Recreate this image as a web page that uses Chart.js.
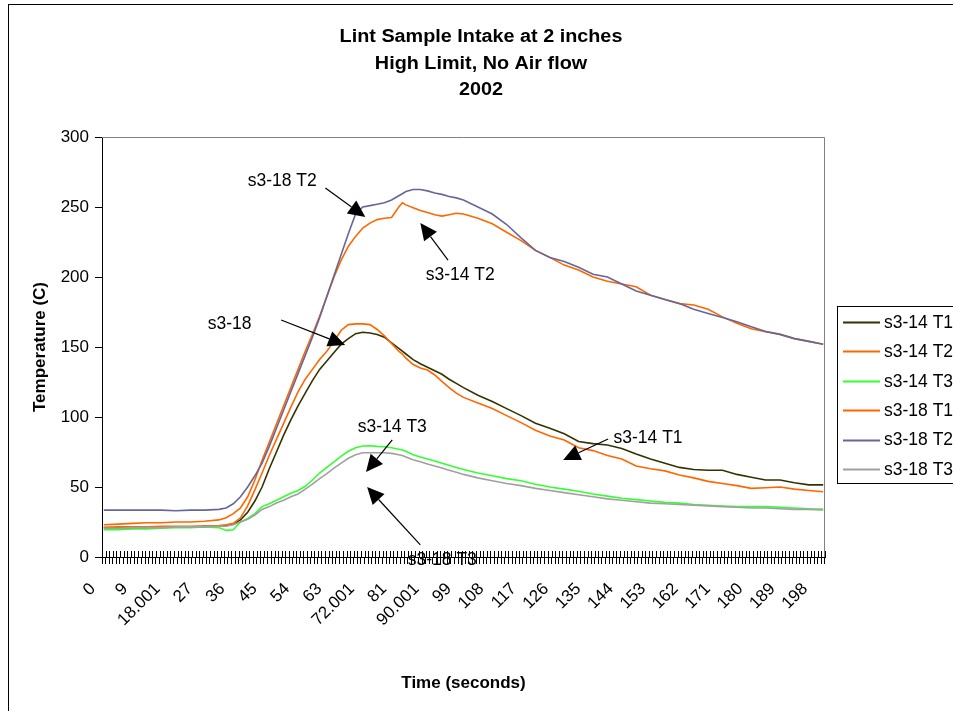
<!DOCTYPE html>
<html>
<head>
<meta charset="utf-8">
<script src="https://cdn.jsdelivr.net/npm/chart.js@4.4.0/dist/chart.umd.min.js"></script>
<style>
html,body{margin:0;padding:0;background:#fff;}
canvas{display:block;}
</style>
</head>
<body>
<canvas id="c" width="953" height="711"></canvas>
<script>
// ---- Data ----
const titleLines = ['Lint Sample Intake at 2 inches', 'High Limit, No Air flow', '2002'];
const xTitle = 'Time (seconds)';
const yTitle = 'Temperature (C)';

// time categories (seconds), one per recorded sample
const timeCategories = [0,1,2,3,4,5,6,7,8,9,10,11,12,13,14,15,16,17,18.001,19,
20,21,22,23,24,25,26,27,28,29,30,31,32,33,34,35,36,37,38,39,
40,41,42,43,44,45,46,47,48,49,50,51,52,53,54,55,56,57,58,59,
60,61,62,63,64,65,66,67,68,69,70,71,72.001,73,74,75,76,77,78,79,
80,81,82,83,84,85,86,87,88,89,90.001,91,92,93,94,95,96,97,98,99,
100,101,102,103,104,105,106,107,108,109,110,111,112,113,114,115,116,117,118,119,
120,121,122,123,124,125,126,127,128,129,130,131,132,133,134,135,136,137,138,139,
140,141,142,143,144,145,146,147,148,149,150,151,152,153,154,155,156,157,158,159,
160,161,162,163,164,165,166,167,168,169,170,171,172,173,174,175,176,177,178,179,
180,181,182,183,184,185,186,187,188,189,190,191,192,193,194,195,196,197,198,199,200];

const xTickLabels = ['0','9','18.001','27','36','45','54','63','72.001','81','90.001','99',
  '108','117','126','135','144','153','162','171','180','189','198'];
const yTicks = [0, 50, 100, 150, 200, 250, 300];

// category positions (index into timeCategories) at which values were read
const sampleIdx = [0,4,8,12,16,20,24,28,32,
  34,36,38,40,42,44,46,48,50,52,54,56,58,60,62,64,66,68,70,72,74,76,78,80,82,83,
  84,86,88,90,92,94,96,98,100,
  104,108,112,116,120,124,128,132,136,140,144,148,152,156,160,164,168,172,176,180,184,188,192,196,200];

const s314T1 = [21,21,21,21,21.5,21.5,21.5,22,22,
  22.5,23.5,26.5,32,40,50,63,75,87,98,108,117,126,134,140,146,152,156,159.5,160.5,160,159,157,153,149,147,
  145,141,138,135.5,133,130.5,127,124,121,
  115.5,111,106,101,95.5,92,88,82.5,81,80,77.5,73.5,70,67,64,62.5,62,62,59,57,55,55,53,51.5,51.5];

const s314T2 = [23,23.5,24,24.5,24.5,25,25,25.5,26.5,
  28,31,35,43,55,69,82,95,108,121,134,147,159,172,186,200,212,222,229,235,238.5,241,242,242.5,250,253,
  251.5,249.5,247.5,246,244.5,243.5,244.5,245.5,245,
  242,238,232,226,219,214,208.5,205,200,197,195,193,187,184,181,180,177,171.5,167,163,161,159,156,154,152];

const s314T3 = [19.5,19.5,20,20,20.5,21,21,21.5,21,
  19,19.5,25,27.5,31,36,38,40.5,43,45.5,47.5,50.5,55,60,64,68,72,75.5,78,79.3,79.5,79,78.8,78,77,76.5,
  75.5,73,71.5,70,68.5,67,65.5,64,62.5,
  60,58,56,54.5,52,50,48.5,47,45,43.5,42,41,40,39,38.5,37.5,37,36.4,36,36,36,35.5,35,34.5,34.3];

const s318T1 = [21,21.5,21.5,21.5,22,22,22,22,22.5,
  23,24,28,36.5,48,60,72.5,84,95.5,107,118,127,134,141,147,154,162,166,166.5,166.5,166,162.5,158,152.5,147,145,
  142,137.5,135,133.5,130,125.5,121,117,114,
  110,106,101,96,90.5,86.5,83.5,78,76,72.5,70,65,63,61.5,58.6,56.5,54,52.5,51,49,49.5,50,48.5,47.5,46.6];

const s318T2 = [33.5,33.5,33.5,33.5,33.5,33,33.5,33.5,34,
  35,38,43,50,58,67,79,92,105,118,131,144,157,171,186,201,216,231,245,250,251,252,253,255,258,259.5,
  261,262.5,262.5,261.5,260,259,257.5,256.5,255,
  250,245,237.5,228,219,214,211,207,202,200,195,190,187,184,181,177,174,171,168,164.5,161,159,156,154,152];

const s318T3 = [20.5,20.5,21,21,21,21.5,21.5,21.5,22,
  22,23,25,27,30,34,36,38.5,40.5,43,45,48.5,52,56,59.5,63.5,67,70.5,73,74.5,74.5,74.5,74.5,74,73,72.5,
  71.5,69.5,68,66.5,65,63.5,62,60.5,59,
  56.5,54.5,52.5,51,49,47.5,46,44.5,43,41.5,40.5,39.5,38.5,38,37.5,37,36.5,36,35.5,35,35,34.5,34,34,33.6];

const seriesNames = ['s3-14 T1','s3-14 T2','s3-14 T3','s3-18 T1','s3-18 T2','s3-18 T3'];
const seriesValues = [s314T1, s314T2, s314T3, s318T1, s318T2, s318T3];
const seriesColors = ['#333300','#FF6600','#33FF33','#FF6600','#666699','#A0A0A0'];

// callouts: text centre and arrow (start -> tip) in data units [category index, temperature]
const callouts = [
  {text:'s3-18 T2', at:[49.6,268.6], from:[61.6,263.6], tip:[72.7,242.9]},
  {text:'s3-14 T2', at:[99.1,201.4], from:[95.7,212.1], tip:[88.0,238.6]},
  {text:'s3-18',    at:[35.0,166.4], from:[49.3,169.3], tip:[67.1,151.4]},
  {text:'s3-14 T3', at:[80.2,92.9],  from:[80.2,83.6],  tip:[72.9,60.7]},
  {text:'s3-18 T3', at:[94.1,-2.1],  from:[88.0,8.6],   tip:[73.2,50.0]},
  {text:'s3-14 T1', at:[151.3,85.0], from:[140.2,84.3], tip:[127.7,69.3]}
];

// ---- Chart ----
const FONT = '"Liberation Sans", Arial, Helvetica, sans-serif';

const datasets = seriesNames.map((name, i) => ({
  label: name,
  data: sampleIdx.map((k, j) => ({x: timeCategories[k], y: seriesValues[i][j]})),
  borderColor: seriesColors[i],
  backgroundColor: seriesColors[i],
  borderWidth: 1.6,
  pointRadius: 0,
  tension: 0,
  fill: false,
  order: seriesNames.length - i
}));

function drawArrow(ctx, x1, y1, x2, y2) {
  const ang = Math.atan2(y2 - y1, x2 - x1);
  const L = 17, W = 8;
  const bx = x2 - L * Math.cos(ang), by = y2 - L * Math.sin(ang);
  ctx.beginPath();
  ctx.moveTo(x1, y1); ctx.lineTo(bx, by); ctx.stroke();
  ctx.beginPath();
  ctx.moveTo(x2, y2);
  ctx.lineTo(bx + W * Math.sin(ang), by - W * Math.cos(ang));
  ctx.lineTo(bx - W * Math.sin(ang), by + W * Math.cos(ang));
  ctx.closePath(); ctx.fill();
}

const decor = {
  id: 'decor',
  beforeDraw(chart) {
    const ctx = chart.ctx;
    ctx.save();
    ctx.fillStyle = '#fff';
    ctx.fillRect(0, 0, chart.width, chart.height);
    ctx.strokeStyle = '#000'; ctx.lineWidth = 1;
    ctx.strokeRect(8.5, 4.5, 1200, 900);
    ctx.fillStyle = '#000';
    ctx.font = 'bold 18px ' + FONT;
    ctx.textAlign = 'center'; ctx.textBaseline = 'middle';
    titleLines.forEach((t, i) => {
      ctx.save();
      ctx.translate(481, 37 + i * 26.7);
      ctx.scale(1.1, 1);
      ctx.fillText(t, 0, 0);
      ctx.restore();
    });
    ctx.restore();
  },
  beforeDatasetsDraw(chart) {
    const {ctx, chartArea: a} = chart;
    ctx.save();
    ctx.strokeStyle = '#808080'; ctx.lineWidth = 1;
    ctx.beginPath();
    ctx.moveTo(a.left, Math.round(a.top) + 0.5);
    ctx.lineTo(Math.round(a.right) - 0.5, Math.round(a.top) + 0.5);
    ctx.lineTo(Math.round(a.right) - 0.5, a.bottom);
    ctx.stroke();
    ctx.restore();
  },
  afterDraw(chart) {
    const {ctx, chartArea: a} = chart;
    const xs = chart.scales.x, ys = chart.scales.y;
    ctx.save();
    // tick marks crossing the category axis (upper half)
    const step = xs.getPixelForValue(1) - xs.getPixelForValue(0);
    ctx.strokeStyle = '#000'; ctx.lineWidth = 1;
    ctx.beginPath();
    for (let i = 0; i <= timeCategories.length; i++) {
      const x = Math.round(xs.getPixelForValue(i) - step / 2) + 0.5;
      ctx.moveTo(x, a.bottom - 6); ctx.lineTo(x, a.bottom);
    }
    ctx.stroke();
    // callouts
    ctx.fillStyle = '#000'; ctx.strokeStyle = '#000'; ctx.lineWidth = 1.2;
    ctx.font = '17.5px ' + FONT;
    ctx.textAlign = 'center'; ctx.textBaseline = 'middle';
    callouts.forEach(c => {
      ctx.fillText(c.text, xs.getPixelForValue(c.at[0]), ys.getPixelForValue(c.at[1]));
      drawArrow(ctx, xs.getPixelForValue(c.from[0]), ys.getPixelForValue(c.from[1]),
                     xs.getPixelForValue(c.tip[0]), ys.getPixelForValue(c.tip[1]));
    });
    // legend
    ctx.lineWidth = 1; ctx.strokeStyle = '#000';
    ctx.strokeRect(837.5, 306.5, 300, 177);
    ctx.font = '17.5px ' + FONT;
    ctx.textAlign = 'left'; ctx.textBaseline = 'middle';
    chart.data.datasets.forEach((ds, i) => {
      const y = 322 + i * 29.4;
      ctx.strokeStyle = ds.borderColor; ctx.lineWidth = 2;
      ctx.beginPath(); ctx.moveTo(843, Math.round(y) + 0.5); ctx.lineTo(880, Math.round(y) + 0.5); ctx.stroke();
      ctx.fillStyle = '#000';
      ctx.fillText(ds.label, 884, y + 1);
    });
    ctx.restore();
  }
};

new Chart(document.getElementById('c'), {
  type: 'line',
  data: { labels: timeCategories, datasets },
  options: {
    responsive: false,
    devicePixelRatio: 1,
    animation: false,
    events: [],
    layout: { padding: { left: 30, top: 137, right: 128, bottom: 17 } },
    plugins: { legend: { display: false }, title: { display: false }, tooltip: { enabled: false } },
    scales: {
      x: {
        type: 'category',
        offset: true,
        afterFit(s) { s.height = 711 - 17 - 557; },
        border: { display: true, color: '#000', width: 1 },
        grid: { display: true, drawOnChartArea: false, offset: true, tickLength: 7, color: '#000', lineWidth: 1 },
        ticks: {
          autoSkip: false, minRotation: 45, maxRotation: 45, padding: 15, labelOffset: -11,
          color: '#000', font: { family: FONT, size: 17 },
          callback(value) {
            const lab = String(this.getLabelForValue(value));
            return xTickLabels.includes(lab) ? lab : '';
          }
        },
        title: { display: true, text: xTitle, color: '#000', padding: 0,
                 font: { family: FONT, size: 17, weight: 'bold' } }
      },
      y: {
        min: 0, max: 300,
        afterFit(s) { s.width = 72; },
        afterBuildTicks(s) { s.ticks = yTicks.map(v => ({value: v})); },
        border: { display: true, color: '#000', width: 1 },
        grid: { display: true, drawOnChartArea: false, tickLength: 7, color: '#000', lineWidth: 1 },
        ticks: { padding: 6, color: '#000', font: { family: FONT, size: 17 } },
        title: { display: true, text: yTitle, color: '#000', padding: 0,
                 font: { family: FONT, size: 17, weight: 'bold' } }
      }
    }
  },
  plugins: [decor]
});
</script>
</body>
</html>
